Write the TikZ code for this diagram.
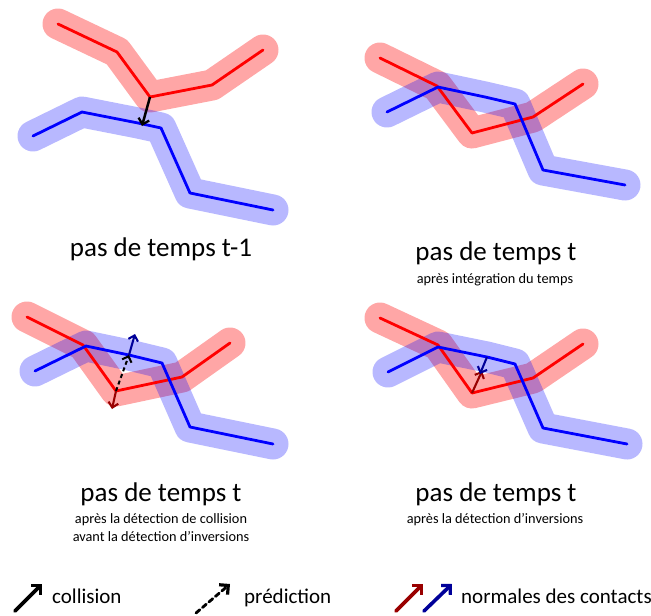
\documentclass[tikz,border=0pt]{standalone}
\usepackage{fontspec}
\setmainfont{Carlito}
\usetikzlibrary{arrows.meta,positioning}

\newcommand{\apos}{\symbol{39}}

\begin{document}
\begin{tikzpicture}[
    x=1pt, y=-1pt,
    redhalo/.style={line width=31pt, red, opacity=0.35, line cap=round, line join=round},
    bluehalo/.style={line width=31pt, blue, opacity=0.28, line cap=round, line join=round},
    redline/.style={line width=2.8pt, red, line cap=round, line join=round},
    blueline/.style={line width=2.8pt, blue, line cap=round, line join=round},
    collarrow/.style={-{Straight Barb[length=5.5pt, width=11pt, line width=2.3pt]}, line width=2.5pt, black},
    predarrow/.style={-{Straight Barb[length=5pt, width=10pt, line width=2pt]}, line width=2pt, black, dash pattern=on 4pt off 3pt},
    rednormal/.style={-{Straight Barb[length=5pt, width=10pt, line width=2.1pt]}, line width=2.1pt, red!60!black},
    bluenormal/.style={-{Straight Barb[length=5pt, width=10pt, line width=2.1pt]}, line width=2.1pt, blue!60!black},
    legarrow/.style={-{Straight Barb[length=6.5pt, width=13pt, line width=3.2pt]}, line width=3.6pt, line cap=round},
    titlelbl/.style={anchor=base, inner sep=0pt, font=\fontsize{27}{30}\selectfont},
    sublbl/.style={anchor=base, inner sep=0pt, font=\fontsize{14.3}{19}\selectfont},
    leglbl/.style={anchor=base west, inner sep=0pt, font=\fontsize{21}{24}\selectfont}
]
    \useasboundingbox (0,0) rectangle (651,616);

    % pas de temps t-1
    \draw [redhalo] (58,24) -- (117,52) -- (150,97) -- (212,85) -- (263,50);
    \draw [bluehalo] (33,136) -- (82,112) -- (138,123) -- (161,128) -- (190,193) -- (273,210);
    \draw [redline] (58,24) -- (117,52) -- (150,97) coordinate (r1) -- (212,85) -- (263,50);
    \draw [blueline] (33,136) -- (82,112) -- (138,123) -- (161,128) -- (190,193) -- (273,210);
    \coordinate (b1) at (142,126);
    \draw [collarrow] (r1) -- (b1);
    \node [titlelbl] (t1) at (161,256) {pas de temps t-1};

    % pas de temps t
    \draw [redhalo] (380,58) -- (437,86) -- (472,133) -- (533,117) -- (583,84);
    \draw [bluehalo] (387,112) -- (438,87) -- (485,97) -- (515,104) -- (543,170) -- (625,185);
    \draw [redline] (380,58) -- (437,86) -- (472,133) -- (533,117) -- (583,84);
    \draw [blueline] (387,112) -- (438,87) -- (485,97) -- (515,104) -- (543,170) -- (625,185);
    \node [titlelbl] (t2) at (496,260) {pas de temps t};
    \node [sublbl] (s2) at (495,283) {après intégration du temps};

    % apres la detection de collision
    \draw [redhalo] (27,317) -- (83,345) -- (116,391) -- (182,377) -- (230,343);
    \draw [bluehalo] (35,371) -- (86,346) -- (129,355) -- (162,363) -- (190,427) -- (273,444);
    \draw [redline] (27,317) -- (83,345) -- (116,391) coordinate (r3) -- (182,377) -- (230,343);
    \draw [blueline] (35,371) -- (86,346) -- (129,355) coordinate (b3) -- (162,363) -- (190,427) -- (273,444);
    \coordinate (r3n) at (112,409);
    \coordinate (b3n) at (135,334);
    \draw [predarrow] (r3) -- (b3);
    \draw [rednormal] (r3) -- (r3n);
    \draw [bluenormal] (b3) -- (b3n);
    \node [titlelbl] (t3) at (161,501) {pas de temps t};
    \node [sublbl] (s3) at (161,523) {après la détection de collision};
    \node [sublbl] (s3b) at (161,541) {avant la détection d\apos inversions};

    % apres la detection d'inversions
    \draw [redhalo] (380,318) -- (438,345) -- (472,393) -- (533,378) -- (583,344);
    \draw [bluehalo] (388,372) -- (438,347) -- (487,357) -- (515,364) -- (543,428) -- (627,444);
    \draw [redline] (380,318) -- (438,345) -- (472,393) coordinate (r4) -- (533,378) -- (583,344);
    \draw [blueline] (388,372) -- (438,347) -- (487,357) coordinate (b4) -- (515,364) -- (543,428) -- (627,444);
    \coordinate (r4n) at (482,371);
    \coordinate (b4n) at (480,374);
    \draw [rednormal] (r4) -- (r4n);
    \draw [bluenormal] (b4) -- (b4n);
    \node [titlelbl] (t4) at (496,501) {pas de temps t};
    \node [sublbl] (s4) at (495,523) {après la détection d\apos inversions};

    % legende
    \coordinate (c0) at (15,611);
    \coordinate (c1) at (42,584);
    \draw [legarrow, black] (c0) -- (c1);
    \node [leglbl] (lc) at (52,603) {collision};
    \coordinate (p0) at (196,613);
    \coordinate (p1) at (230,584);
    \draw [legarrow, black, line width=2.8pt, dash pattern=on 5pt off 3.5pt] (p0) -- (p1);
    \node [leglbl] (lp) at (244,603) {prédiction};
    \coordinate (n0) at (396,611);
    \coordinate (n1) at (423,584);
    \coordinate (m0) at (424,611);
    \coordinate (m1) at (452,584);
    \draw [legarrow, red!60!black] (n0) -- (n1);
    \draw [legarrow, blue!60!black] (m0) -- (m1);
    \node [leglbl] (ln) at (461,603) {normales des contacts};
\end{tikzpicture}
\end{document}
